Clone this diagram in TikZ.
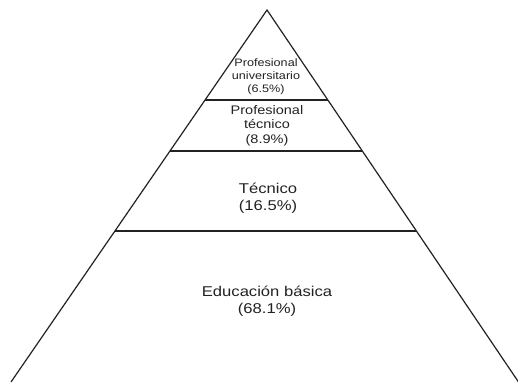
\documentclass[tikz,border=0pt]{standalone}
\usepackage{fontspec}
\setmainfont{Liberation Sans}[FakeStretch=1.17]
\usetikzlibrary{calc}
\definecolor{ink}{HTML}{222222}
\tikzset{
  edge/.style={draw=ink, line width=1.2pt},
  label/.style={align=center, text=ink, inner sep=0pt},
}
\begin{document}
\begin{tikzpicture}[x=1pt,y=-1pt]
\useasboundingbox (0,0) rectangle (518,382);
\coordinate (apex) at (267,10);
\coordinate (bl) at (11,382);
\coordinate (br) at (518.5,382);
\draw[edge] (bl) -- (apex) -- (br);
\foreach \t/\n in {0.2419/a,0.379/b,0.594/c}{
  \coordinate (l\n) at ($(apex)!\t!(bl)$);
  \coordinate (r\n) at ($(apex)!\t!(br)$);
  \draw[edge] (l\n) -- (r\n);
}
\node[label, font=\fontsize{10.8}{13}\selectfont] (t1) at (266,76.5) {Profesional\\universitario\\(6.5\%)};
\node[label, font=\fontsize{12.4}{14.5}\selectfont] (t2) at (267,125.5) {Profesional\\técnico\\(8.9\%)};
\node[label, font=\fontsize{14.2}{17}\selectfont] (t3) at (268,198.5) {Técnico\\(16.5\%)};
\node[label, font=\fontsize{14.2}{17.5}\selectfont] (t4) at (267,301) {Educación básica\\(68.1\%)};
\end{tikzpicture}
\end{document}
